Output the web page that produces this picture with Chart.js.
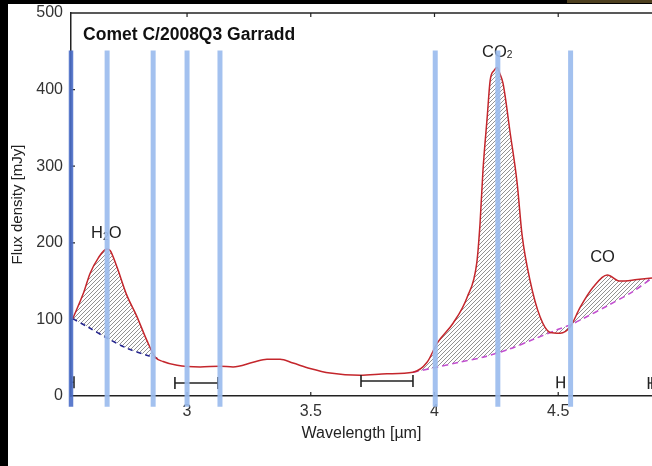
<!DOCTYPE html>
<html><head><meta charset="utf-8">
<script src="https://cdn.jsdelivr.net/npm/chart.js@4"></script>
<style>
html,body{margin:0;padding:0;background:#000;width:652px;height:466px;overflow:hidden;}
#wrap{position:absolute;left:8px;top:4px;width:644px;height:462px;background:#fff;}
#strip{position:absolute;left:567px;top:0;width:85px;height:3px;background:#4e4020;}
canvas{display:block;}
</style></head><body>
<div id="strip"></div>
<div id="wrap"><canvas id="c" width="644" height="462"></canvas></div>
<script>
// ---- data ----
const wavelength = [2.538,2.581,2.608,2.641,2.675,2.689,2.716,2.756,2.797,2.837,2.871,2.903,2.960,3.053,3.133,3.186,3.267,3.323,3.376,3.428,3.497,3.578,3.699,3.808,3.913,3.970,4.011,4.075,4.132,4.171,4.184,4.196,4.213,4.225,4.241,4.253,4.265,4.277,4.306,4.334,4.354,4.386,4.427,4.467,4.508,4.548,4.589,4.641,4.698,4.750,4.819,4.879];
const flux       = [101,134,160,180,192,190,169,132,104,73,51,45,40,38,39,38,44,48,48,43,36,30,27,29,31,44,69,95,129,174,225,295,364,412,425,429,420,408,343,278,210,151,103,83,82,90,116,142,158,150,152,154];
const h2oContWl  = [2.538,2.6,2.68,2.76,2.84,2.88];
const h2oCont    = [101,90,75,62,53,49];
const co2ContWl  = [3.913,4.0,4.1,4.2,4.3,4.4,4.5,4.55,4.6,4.7,4.8,4.879];
const co2Cont    = [31,37,44,51,61,74,87,93,101,118,136,154];
const bandCenters = [2.531,2.677,2.863,3.0,3.133,4.003,4.256,4.55];
const bandSpan    = [-14,451];
const rangeLo  = [2.531,2.951,3.703,4.496,4.865];
const rangeHi  = [2.543,3.125,3.913,4.524,4.879];
const rangeY   = [18,17,19.6,18,17];
const xTicks = [3,3.5,4,4.5];
const xTickLabels = ['3','3.5','4','4.5'];
const yTicks = [0,100,200,300,400,500];
const xRange = [2.531,4.879];
const yRange = [0,500];

const FONT = 'Liberation Sans, Arial, Helvetica, sans-serif';
const canvas = document.getElementById('c');
const ctx0 = canvas.getContext('2d');

function makeHatch(){
  const s = 4, c = document.createElement('canvas');
  c.width = s; c.height = s;
  const g = c.getContext('2d');
  g.strokeStyle = '#6e6e6e'; g.lineWidth = 0.75;
  g.beginPath();
  g.moveTo(0,s); g.lineTo(s,0);
  g.moveTo(-1,1); g.lineTo(1,-1);
  g.moveTo(s-1,s+1); g.lineTo(s+1,s-1);
  g.stroke();
  return ctx0.createPattern(c,'repeat');
}
const hatch = makeHatch();

const pts = (xs, ys) => xs.map((x,i)=>({x, y: ys[i]}));

const datasets = [
  { // 0: spectrum
    data: pts(wavelength, flux),
    borderColor: '#c4262c', borderWidth: 1.5, pointRadius: 0,
    cubicInterpolationMode: 'monotone', fill: false, order: 5
  },
  { // 1: H2O continuum
    data: pts(h2oContWl, h2oCont),
    borderColor: '#25258f', borderWidth: 1.6, borderDash: [5,4], pointRadius: 0,
    tension: 0.3, fill: {target: 0, above: hatch, below: hatch}, backgroundColor: hatch, order: 6
  },
  { // 2: CO2/CO continuum
    data: pts(co2ContWl, co2Cont),
    borderColor: '#c24fd0', borderWidth: 1.6, borderDash: [6,4], pointRadius: 0,
    tension: 0.3, fill: {target: 0, above: hatch, below: hatch}, backgroundColor: hatch, order: 6
  }
];
bandCenters.forEach((w,i)=>{
  datasets.push({
    data: [{x:w, y:bandSpan[0]},{x:w, y:bandSpan[1]}],
    borderColor: i===0 ? 'rgba(75,110,200,0.9)' : 'rgba(155,188,238,0.92)',
    borderWidth: i===0 ? 4.5 : 5, pointRadius: 0, fill: false, clip: false, order: 1
  });
});
rangeLo.forEach((lo,i)=>{
  datasets.push({
    data: [{x:lo, y:rangeY[i]},{x:rangeHi[i], y:rangeY[i]}],
    borderColor: '#222', borderWidth: 1.3, fill: false,
    pointStyle: 'line', pointRotation: 90, pointRadius: 6,
    pointBorderColor: '#222', pointBorderWidth: 1.6, clip: false, order: 2
  });
});

function chem(ctx, parts, x, y, size){
  let cx = x;
  parts.forEach(([t,sub])=>{
    ctx.font = (sub ? (size*0.62) : size) + 'px ' + FONT;
    ctx.fillText(t, cx, sub ? y + size*0.1 : y);
    cx += ctx.measureText(t).width;
  });
}

const decor = {
  id: 'decor',
  beforeDatasetsDraw(chart){
    const {ctx, chartArea:a, scales:{x, y}} = chart;
    ctx.save();
    ctx.strokeStyle = '#222'; ctx.lineWidth = 1.5;
    ctx.beginPath(); ctx.moveTo(a.left, a.top); ctx.lineTo(a.right, a.top); ctx.stroke();
    ctx.lineWidth = 1.2;
    ctx.beginPath();
    xTicks.forEach(v=>{
      const px = x.getPixelForValue(v);
      ctx.moveTo(px, a.bottom); ctx.lineTo(px, a.bottom-4);
      ctx.moveTo(px, a.top); ctx.lineTo(px, a.top+4);
    });
    yTicks.slice(1,-1).forEach(v=>{
      const py = y.getPixelForValue(v);
      ctx.moveTo(a.left, py); ctx.lineTo(a.left+4, py);
    });
    ctx.stroke();
    ctx.fillStyle = '#111';
    ctx.textBaseline = 'alphabetic'; ctx.textAlign = 'left';
    ctx.font = 'bold 17.5px ' + FONT;
    ctx.fillText('Comet C/2008Q3 Garradd', x.getPixelForValue(2.580), y.getPixelForValue(465));
    ctx.fillStyle = '#222';
    chem(ctx, [['H',0],['2',1],['O',0]], x.getPixelForValue(2.612), y.getPixelForValue(206), 16.5);
    chem(ctx, [['CO',0],['2',1]], x.getPixelForValue(4.192), y.getPixelForValue(443), 16.5);
    chem(ctx, [['CO',0]], x.getPixelForValue(4.629), y.getPixelForValue(175), 16.5);
    ctx.restore();
  }
};

new Chart(canvas, {
  type: 'line',
  data: { datasets },
  options: {
    responsive: false, animation: false, events: [],
    layout: { autoPadding: false, padding: { left: 0, right: 0, top: 9, bottom: 0 } },
    plugins: { legend: {display:false}, tooltip: {enabled:false} },
    scales: {
      x: {
        type: 'linear', min: xRange[0], max: xRange[1],
        grid: { display: false, drawTicks: false },
        border: { display: true, color: '#222', width: 1.5 },
        afterFit: s => { s.height = 70; s.paddingLeft = 0; s.paddingRight = 0; },
        afterBuildTicks: s => { s.ticks = xTicks.map(v=>({value:v})); },
        ticks: {
          autoSkip: false, maxRotation: 0, padding: 6, color: '#333',
          font: { family: FONT, size: 16 },
          callback: (v) => { const i = xTicks.indexOf(v); return i>=0 ? xTickLabels[i] : ''; }
        },
        title: { display: true, text: 'Wavelength [µm]', color: '#222',
          font: { family: FONT, size: 16 }, padding: { top: 0, bottom: 23 } }
      },
      y: {
        type: 'linear', min: yRange[0], max: yRange[1],
        grid: { display: false, drawTicks: false },
        border: { display: true, color: '#222', width: 1.5 },
        afterFit: s => { s.width = 63; s.paddingTop = 0; s.paddingBottom = 0; },
        afterBuildTicks: s => { s.ticks = yTicks.map(v=>({value:v})); },
        ticks: { padding: 8, color: '#333', font: { family: FONT, size: 16 } },
        title: { display: true, text: 'Flux density [mJy]', color: '#222',
          font: { family: FONT, size: 15 }, padding: { top: 1, bottom: 0 } }
      }
    }
  },
  plugins: [decor]
});
</script>
</body></html>
